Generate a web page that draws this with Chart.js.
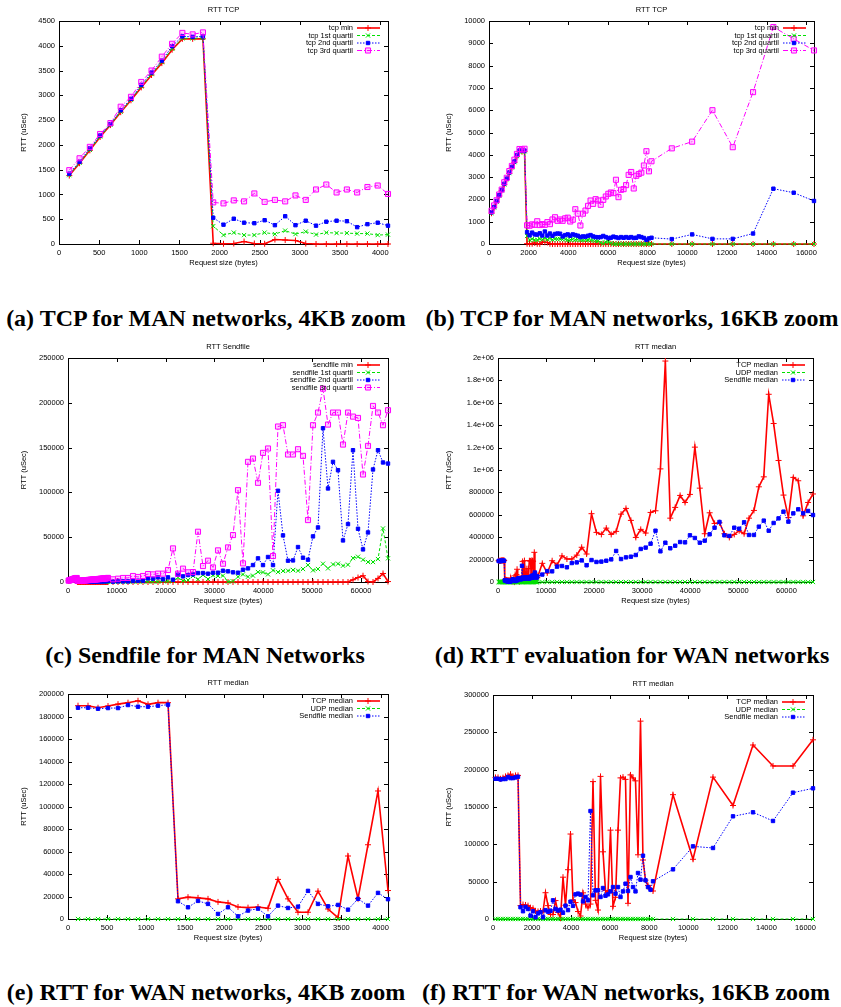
<!DOCTYPE html>
<html>
<head>
<meta charset="utf-8">
<script src="https://cdn.jsdelivr.net/npm/chart.js@4.4.1/dist/chart.umd.min.js"></script>
<style>
body { margin: 0; background: #fff; width: 841px; height: 1007px; position: relative; overflow: hidden; }
canvas { position: absolute; }
.cap { position: absolute; width: 600px; text-align: center; white-space: nowrap;
       font: bold 24px "Liberation Serif", "Times New Roman", serif; line-height: 24px; color: #000; }
</style>
</head>
<body>
<canvas id="chartA" width="420" height="280" style="left:0;top:0"></canvas>
<canvas id="chartB" width="421" height="280" style="left:420px;top:0"></canvas>
<canvas id="chartC" width="420" height="280" style="left:0;top:335px"></canvas>
<canvas id="chartD" width="421" height="280" style="left:420px;top:335px"></canvas>
<canvas id="chartE" width="420" height="280" style="left:0;top:670px"></canvas>
<canvas id="chartF" width="421" height="280" style="left:420px;top:670px"></canvas>

<div class="cap" style="left:-94px;top:306px">(a) TCP for MAN networks, 4KB zoom</div>
<div class="cap" style="left:332px;top:306px">(b) TCP for MAN networks, 16KB zoom</div>
<div class="cap" style="left:-95px;top:643px">(c) Sendfile for MAN Networks</div>
<div class="cap" style="left:332px;top:643px">(d) RTT evaluation for WAN networks</div>
<div class="cap" style="left:-94px;top:980px">(e) RTT for WAN networks, 4KB zoom</div>
<div class="cap" style="left:326px;top:980px">(f) RTT for WAN networks, 16KB zoom</div>

<script>
// request sizes (bytes): 128 steps up to 8 KB, then 1 KB steps up to 64 KB
const sizes = [
  128, 256, 384, 512, 640, 768, 896, 1024, 1152, 1280, 1408, 1536, 1664, 1792, 1920, 2048,
  2176, 2304, 2432, 2560, 2688, 2816, 2944, 3072, 3200, 3328, 3456, 3584, 3712, 3840, 3968, 4096,
  4224, 4352, 4480, 4608, 4736, 4864, 4992, 5120, 5248, 5376, 5504, 5632, 5760, 5888, 6016, 6144,
  6272, 6400, 6528, 6656, 6784, 6912, 7040, 7168, 7296, 7424, 7552, 7680, 7808, 7936, 8064, 8192,
  9216, 10240, 11264, 12288, 13312, 14336, 15360, 16384, 17408, 18432, 19456, 20480, 21504, 22528,
  23552, 24576, 25600, 26624, 27648, 28672, 29696, 30720, 31744, 32768, 33792, 34816, 35840, 36864,
  37888, 38912, 39936, 40960, 41984, 43008, 44032, 45056, 46080, 47104, 48128, 49152, 50176, 51200,
  52224, 53248, 54272, 55296, 56320, 57344, 58368, 59392, 60416, 61440, 62464, 63488, 64512, 65536
];

// MAN, TCP quartiles (uSec), first 72 sizes (up to 16 KB)
const tcpMin = [
  1380, 1630, 1890, 2160, 2400, 2660, 2900, 3160, 3410, 3650, 3920, 4140, 4140, 4140,
  15, 5, 10, 50, 10, 5, 90, 80, 70, 10, 0, 0, 0, 0, 0, 0, 0, 0,
  0, 0, 0, 0, 0, 0, 0, 0, 0, 0, 0, 0, 0, 0, 0, 0,
  0, 0, 0, 0, 0, 0, 0, 0, 0, 0, 0, 0, 0, 0, 0, 0,
  0, 0, 0, 0, 0, 0, 0, 0
];
const tcpQ1 = [
  1390, 1640, 1900, 2170, 2410, 2670, 2910, 3180, 3430, 3670, 3940, 4150, 4150, 4160,
  360, 180, 230, 180, 180, 230, 200, 270, 200, 250, 190, 230, 220, 220, 210, 210, 180, 190,
  210, 190, 200, 180, 170, 190, 180, 170, 160, 150, 140, 60, 20, 80, 90, 30,
  10, 5, 0, 5, 0, 0, 5, 0, 0, 0, 5, 0, 0, 0, 0, 0,
  0, 0, 0, 0, 0, 0, 0, 0
];
const tcpQ2 = [
  1420, 1660, 1930, 2190, 2420, 2700, 2930, 3210, 3460, 3700, 3990, 4190, 4180, 4190,
  530, 390, 510, 430, 420, 480, 380, 560, 380, 470, 370, 450, 470, 460, 340, 400, 430, 370,
  430, 400, 370, 310, 340, 330, 370, 400, 340, 310, 300, 310, 360, 310, 270, 280,
  330, 300, 270, 310, 280, 310, 280, 310, 270, 280, 340, 310, 270, 190, 250, 280,
  220, 430, 230, 230, 470, 2480, 2300, 1930
];
const tcpQ3 = [
  1490, 1730, 1960, 2220, 2440, 2770, 2970, 3270, 3500, 3780, 4040, 4260, 4230, 4270,
  840, 820, 880, 860, 1020, 850, 890, 860, 980, 890, 1100, 1200, 1040, 1100, 1040, 1150, 1180, 1010,
  1090, 1560, 1360, 830, 1360, 1500, 1710, 1950, 1800, 2010, 1950, 1760, 1980, 2130, 2250, 2310,
  2280, 2880, 2100, 2430, 2460, 2640, 3100, 3230, 2490, 3060, 3140, 3200, 3520, 4160, 3260, 3710,
  4290, 4590, 6000, 4340, 6810, 9730, 9200, 8680
];

// MAN, sendfile quartiles (uSec), all 120 sizes
const sfMin = [
  1350, 1600, 1850, 2100, 2350, 2600, 2850, 3100, 3350, 3600, 3850, 4100, 4200, 4300,
  20, 10, 30, 10, 20, 0, 10, 30, 20, 10, 0, 20, 10, 30, 0, 10, 20, 10,
  0, 10, 0, 20, 0, 10, 0, 0, 10, 0, 20, 0, 0, 10, 0, 0,
  20, 0, 10, 0, 0, 10, 0, 0, 20, 0, 10, 0, 0, 10, 0, 0,
  0, 0, 0, 0, 0, 0, 0, 0, 0, 0, 0, 0, 0, 0, 0, 0,
  0, 0, 0, 0, 0, 0, 0, 0, 0, 0, 0, 0, 0, 0, 0, 0,
  0, 0, 0, 0, 0, 0, 0, 0, 0, 0, 0, 0, 0, 0, 0, 0,
  2500, 5000, 7000, 500, 0, 4000, 9500, 500
];
const sfQ1 = [
  1400, 1650, 1900, 2150, 2400, 2650, 2900, 3150, 3400, 3650, 3900, 4150, 4250, 4350,
  220, 180, 240, 200, 260, 210, 230, 250, 220, 270, 240, 260, 230, 280, 250, 300, 270, 290,
  260, 310, 280, 320, 290, 300, 330, 310, 340, 300, 350, 320, 360, 330, 370, 340,
  380, 350, 390, 360, 400, 370, 410, 380, 420, 390, 430, 400, 440, 410, 450, 420,
  200, 200, 300, 200, 300, 300, 300, 400, 400, 400, 1100, 700, 1100, 4800,
  1100, 2200, 6700, 3000, 7800, 3300, 7400, 6700, 7100, 400, 700, 5900, 8500, 5900,
  7100, 11100, 10800, 8500, 13000, 11100, 12300, 12600, 13400, 12600, 14500, 18900, 13000, 14500,
  20400, 15200, 19700, 20400, 18200, 19300, 26700, 28200, 24900, 22300, 22300, 25600, 59800, 26400
];
const sfQ2 = [
  1450, 1700, 1950, 2200, 2450, 2700, 2950, 3200, 3450, 3700, 3950, 4200, 4300, 4400,
  500, 450, 520, 480, 550, 500, 600, 520, 580, 620, 560, 650, 600, 680, 640, 700, 660, 720,
  700, 750, 690, 780, 740, 800, 760, 820, 790, 850, 810, 880, 840, 900, 870, 930,
  890, 950, 920, 980, 940, 1000, 960, 1050, 990, 1100, 1030, 1150, 1080, 1200, 1120, 1250,
  400, 700, 700, 700, 1100, 1500, 1500, 4100, 3700, 5200, 3000, 5200, 2600, 8200,
  6300, 7800, 8500, 10000, 10000, 9300, 10400, 10400, 12600, 11900, 10800, 10400, 13700, 15200,
  18900, 26400, 18900, 27900, 18900, 101800, 52000, 23800, 24100, 39000, 27100, 24900, 50900, 60900,
  171600, 104400, 134100, 124800, 46400, 64600, 147100, 59400, 36400, 55300, 125600, 147100, 133400, 132200
];
const sfQ3 = [
  1500, 1750, 2000, 2250, 2500, 2750, 3000, 3250, 3500, 3750, 4000, 4300, 4400, 4500,
  1300, 1200, 1300, 1400, 1300, 1500, 1400, 1600, 1500, 1700, 1800, 1700, 1900, 2000, 1900, 2100, 2200, 2100,
  2300, 2400, 2200, 2500, 2600, 2400, 2700, 2800, 2600, 2900, 3000, 2800, 3100, 3200, 3000, 3300,
  3400, 3200, 3500, 3600, 3400, 3700, 3800, 3600, 3900, 4000, 3800, 4200, 4100, 4300, 4400, 4600,
  3000, 3700, 4500, 4500, 6700, 5600, 6700, 8900, 8500, 9300, 9300, 13400, 37500, 9300,
  14900, 10800, 11100, 56100, 17800, 23800, 16300, 35300, 20400, 38600, 52400, 102500, 20800, 134100,
  137800, 110700, 144100, 149000, 29000, 173500, 175000, 142300, 142300, 148200, 140800, 69100, 175000, 189100,
  215800, 175700, 189100, 189100, 153400, 189100, 184600, 183100, 120000, 151900, 196500, 189100, 175000, 191700
];

// WAN medians (uSec), all 120 sizes
const wanTcp = [
  189600, 189600, 187800, 189300, 191000, 192300, 194000, 190800, 192300, 192300,
  17900, 19400, 18800, 17900, 15200, 14300, 10700, 10100, 10700, 9500,
  35200, 17900, 6000, 6000, 24700, 8900, 1200, 56000, 18200, 66000, 113800, 25300,
  22000, 10000, 4000, 35000, 20000, 15000, 20000, 184000, 25000, 12000, 191000, 90000, 38000, 35000, 119000, 17000,
  29000, 119000, 189000, 190000, 187000, 21000, 193000, 189000, 185000, 86000, 265000, 79000, 52000, 45000, 40000, 37500,
  166500, 80000, 190000, 152000, 233000, 205000, 205000, 240000, 310000, 250000,
  610000, 443000, 425000, 481000, 425000, 452000, 606000, 657000, 550000, 398000,
  470000, 437000, 621000, 636000, 1010000, 1973000, 570000, 666000, 773000, 710000,
  782000, 1204000, 838000, 431000, 618000, 523000, 529000, 431000, 398000, 425000,
  458000, 431000, 570000, 639000, 850000, 939000, 1676000, 1415000, 1085000, 776000,
  575000, 934000, 904000, 591000, 710000, 786000
];
const wanUdp = [
  0, 0, 0, 0, 0, 0, 0, 0, 0, 0, 0, 0, 0, 0, 0, 0, 0, 0, 0, 0,
  0, 0, 0, 0, 0, 0, 0, 0, 0, 0, 0, 0, 0, 0, 0, 0, 0, 0, 0, 0,
  0, 0, 0, 0, 0, 0, 0, 0, 0, 0, 0, 0, 0, 0, 0, 0, 0, 0, 0, 0,
  0, 0, 0, 0, 0, 0, 0, 0, 0, 0, 0, 0, 0, 0, 0, 0, 0, 0, 0, 0,
  0, 0, 0, 0, 0, 0, 0, 0, 0, 0, 0, 0, 0, 0, 0, 0, 0, 0, 0, 0,
  0, 0, 0, 0, 0, 0, 0, 0, 0, 0, 0, 0, 0, 0, 0, 0, 0, 0, 0, 0
];
const wanSendfile = [
  187800, 187800, 186900, 187500, 187500, 190200, 188700, 188700, 189600, 190500,
  15800, 10400, 16100, 13400, 4500, 10400, 2400, 7500, 9200, 2400,
  11900, 9800, 11000, 25000, 13400, 11300, 12500, 8300, 17900, 11900, 23200, 17600,
  33000, 34000, 32600, 23600, 29500, 25000, 144600, 31700, 38400, 38400, 29500, 41500, 31200, 33000, 37000, 42800,
  34000, 42800, 29500, 37000, 47300, 37500, 56200, 42800, 37000, 61600, 52700, 84800, 51800, 42800, 39300, 50500,
  66500, 97300, 95100, 137500, 142900, 131300, 169200, 175000, 193000, 149000,
  196000, 179000, 182000, 190000, 202000, 277000, 205000, 220000, 226000, 241000,
  295000, 307000, 342000, 458000, 274000, 351000, 301000, 324000, 357000, 354000,
  417000, 393000, 351000, 369000, 426000, 485000, 536000, 417000, 411000, 485000,
  476000, 533000, 420000, 420000, 494000, 548000, 458000, 527000, 568000, 628000,
  539000, 613000, 649000, 613000, 634000, 598000
];

// tick values
const xTicks4k = [0, 500, 1000, 1500, 2000, 2500, 3000, 3500, 4000];
const xTicks16k = [0, 2000, 4000, 6000, 8000, 10000, 12000, 14000, 16000];
const xTicks64k = [0, 10000, 20000, 30000, 40000, 50000, 60000];
const yTicksA = [0, 500, 1000, 1500, 2000, 2500, 3000, 3500, 4000, 4500];
const yTicksB = [0, 1000, 2000, 3000, 4000, 5000, 6000, 7000, 8000, 9000, 10000];
const yTicksC = [0, 50000, 100000, 150000, 200000, 250000];
const yTicksD = [0, 200000, 400000, 600000, 800000, 1000000, 1200000, 1400000, 1600000, 1800000, 2000000];
const yTicksE = [0, 20000, 40000, 60000, 80000, 100000, 120000, 140000, 160000, 180000, 200000];
const yTicksF = [0, 50000, 100000, 150000, 200000, 250000, 300000];

// gnuplot-like line types
const seriesStyles = [
  { color: '#ff0000', width: 1.6, dash: [], point: 'cross', radius: 3, fill: '#ff0000' },
  { color: '#00e000', width: 1, dash: [3, 2], point: 'crossRot', radius: 3, fill: '#00e000' },
  { color: '#0000ff', width: 1, dash: [1.5, 1.5], point: 'rect', radius: 2.4, fill: '#0000ff' },
  { color: '#ff00ff', width: 1, dash: [5, 2, 1, 2], point: 'rect', radius: 3.6, fill: 'rgba(255,0,255,0.2)' }
];

var FONT = { family: '"Liberation Sans", Arial, sans-serif', size: 7.5 };
var FONT_CSS = '7.5px "Liberation Sans", Arial, sans-serif';

function drawMarker(ctx, st, x, y) {
  ctx.save();
  ctx.setLineDash([]);
  ctx.strokeStyle = st.color;
  ctx.fillStyle = st.fill;
  ctx.lineWidth = 1;
  Chart.helpers.drawPoint(ctx, { pointStyle: st.point, radius: st.radius, rotation: 0, borderWidth: 1 }, x, y);
  ctx.restore();
}

// border with mirrored inward ticks, title and key inside the plot
var gnuplotFrame = {
  id: 'gnuplotFrame',
  beforeDatasetsDraw: function(chart) {
    var ctx = chart.ctx, a = chart.chartArea, sx = chart.scales.x, sy = chart.scales.y;
    ctx.save();
    ctx.strokeStyle = '#000';
    ctx.lineWidth = 1;
    ctx.strokeRect(Math.round(a.left) + 0.5, Math.round(a.top) + 0.5,
      Math.round(a.right - a.left), Math.round(a.bottom - a.top));
    ctx.beginPath();
    sx.ticks.forEach(function(t) {
      var px = Math.round(sx.getPixelForValue(t.value)) + 0.5;
      ctx.moveTo(px, a.bottom); ctx.lineTo(px, a.bottom - 4);
      ctx.moveTo(px, a.top); ctx.lineTo(px, a.top + 4);
    });
    sy.ticks.forEach(function(t) {
      var py = Math.round(sy.getPixelForValue(t.value)) + 0.5;
      ctx.moveTo(a.left, py); ctx.lineTo(a.left + 4, py);
      ctx.moveTo(a.right, py); ctx.lineTo(a.right - 4, py);
    });
    ctx.stroke();
    ctx.restore();
  },
  afterDraw: function(chart, args, opts) {
    var ctx = chart.ctx, a = chart.chartArea;
    ctx.save();
    ctx.font = FONT_CSS;
    ctx.fillStyle = '#000';
    ctx.textAlign = 'center';
    ctx.textBaseline = 'middle';
    ctx.fillText(opts.title, (a.left + a.right) / 2, a.top - 11);
    chart.data.datasets.forEach(function(ds, i) {
      var st = seriesStyles[i];
      var yy = a.top + 7 + i * 7.5;
      ctx.fillStyle = '#000';
      ctx.textAlign = 'right';
      ctx.fillText(ds.label, a.right - 35, yy);
      ctx.strokeStyle = st.color;
      ctx.lineWidth = st.width;
      ctx.setLineDash(st.dash);
      ctx.beginPath();
      ctx.moveTo(a.right - 31, yy);
      ctx.lineTo(a.right - 8, yy);
      ctx.stroke();
      drawMarker(ctx, st, a.right - 20, yy);
    });
    ctx.restore();
  }
};

function sciLabel(v) {
  if (v >= 1000000) return String(+(v / 1000000).toFixed(1)) + 'e+06';
  return String(v);
}

function makePanel(id, p) {
  var canvas = document.getElementById(id);
  var W = canvas.width, H = canvas.height;
  var datasets = p.series.map(function(s, i) {
    var st = seriesStyles[i];
    return {
      label: s.label,
      data: sizes.slice(0, p.count).map(function(x, k) { return { x: x, y: s.values[k] }; }),
      borderColor: st.color,
      backgroundColor: st.fill,
      borderWidth: st.width,
      borderDash: st.dash,
      pointStyle: st.point,
      pointRadius: st.radius,
      pointBorderColor: st.color,
      pointBackgroundColor: st.fill,
      pointBorderWidth: 1,
      fill: false,
      tension: 0,
      clip: false,
      order: p.series.length - i
    };
  });
  return new Chart(canvas, {
    type: 'line',
    data: { datasets: datasets },
    plugins: [gnuplotFrame],
    options: {
      responsive: false,
      animation: false,
      events: [],
      layout: { padding: { top: p.top, right: W - p.right, bottom: 0, left: 0 } },
      plugins: {
        legend: { display: false },
        tooltip: { enabled: false },
        gnuplotFrame: { title: p.title }
      },
      scales: {
        x: {
          type: 'linear', min: 0, max: p.xMax,
          grid: { display: false, drawTicks: false }, border: { display: false },
          afterBuildTicks: function(s) { s.ticks = p.xTicks.map(function(v) { return { value: v }; }); },
          afterFit: function(s) { s.height = H - p.bottom; },
          ticks: { font: FONT, color: '#000', padding: 4, autoSkip: false, maxRotation: 0, minRotation: 0,
                   callback: function(v) { return String(v); } },
          title: { display: true, text: 'Request size (bytes)', font: FONT, color: '#000',
                   padding: { top: 0, bottom: H - 4.5 - (p.bottom + 19) } }
        },
        y: {
          type: 'linear', min: 0, max: p.yTicks[p.yTicks.length - 1],
          grid: { display: false, drawTicks: false }, border: { display: false },
          afterBuildTicks: function(s) { s.ticks = p.yTicks.map(function(v) { return { value: v }; }); },
          afterFit: function(s) { s.width = p.left; },
          ticks: { font: FONT, color: '#000', padding: 4, autoSkip: false, callback: sciLabel },
          title: { display: true, text: 'RTT (uSec)', font: FONT, color: '#000',
                   padding: { top: p.yTitle - 4.5, bottom: 0 } }
        }
      }
    }
  });
}

var manTcp = [
  { label: 'tcp min', values: tcpMin },
  { label: 'tcp 1st quartil', values: tcpQ1 },
  { label: 'tcp 2nd quartil', values: tcpQ2 },
  { label: 'tcp 3rd quartil', values: tcpQ3 }
];
var manSendfile = [
  { label: 'sendfile min', values: sfMin },
  { label: 'sendfile 1st quartil', values: sfQ1 },
  { label: 'sendfile 2nd quartil', values: sfQ2 },
  { label: 'sendfile 3rd quartil', values: sfQ3 }
];
var wanMedian = [
  { label: 'TCP median', values: wanTcp },
  { label: 'UDP median', values: wanUdp },
  { label: 'Sendfile median', values: wanSendfile }
];

makePanel('chartA', { title: 'RTT TCP', series: manTcp, count: 32, xMax: 4096, xTicks: xTicks4k, yTicks: yTicksA,
  left: 59, right: 388, top: 21, bottom: 244, yTitle: 24 });
makePanel('chartB', { title: 'RTT TCP', series: manTcp, count: 72, xMax: 16384, xTicks: xTicks16k, yTicks: yTicksB,
  left: 69, right: 394, top: 21, bottom: 244, yTitle: 29 });
makePanel('chartC', { title: 'RTT Sendfile', series: manSendfile, count: 120, xMax: 65536, xTicks: xTicks64k, yTicks: yTicksC,
  left: 68, right: 388, top: 23, bottom: 247, yTitle: 24 });
makePanel('chartD', { title: 'RTT median', series: wanMedian, count: 120, xMax: 65536, xTicks: xTicks64k, yTicks: yTicksD,
  left: 78, right: 393, top: 23, bottom: 247, yTitle: 29 });
makePanel('chartE', { title: 'RTT median', series: wanMedian, count: 32, xMax: 4096, xTicks: xTicks4k, yTicks: yTicksE,
  left: 68, right: 388, top: 24, bottom: 249, yTitle: 24 });
makePanel('chartF', { title: 'RTT median', series: wanMedian, count: 72, xMax: 16384, xTicks: xTicks16k, yTicks: yTicksF,
  left: 73, right: 393, top: 25, bottom: 249, yTitle: 29 });
</script>
</body>
</html>
